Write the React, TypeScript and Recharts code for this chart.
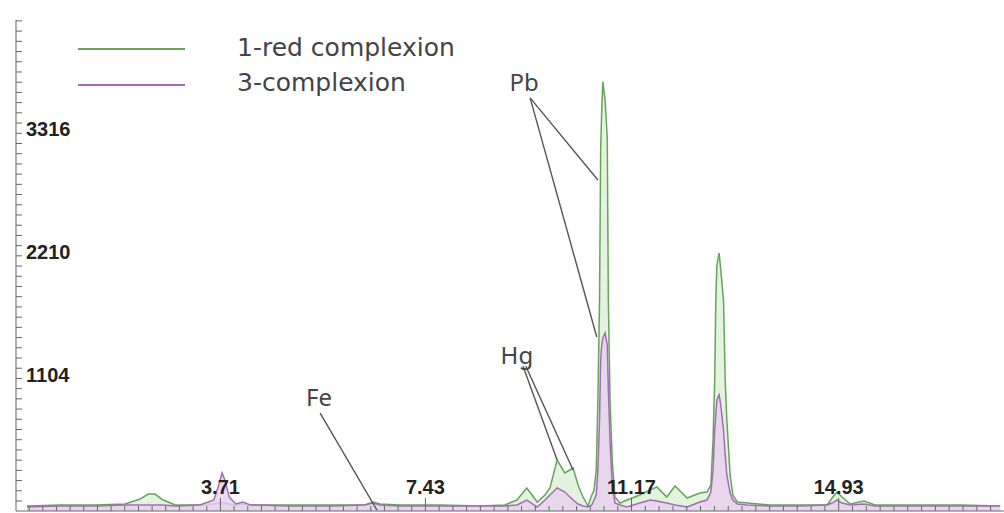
import { AreaChart, Area, XAxis, YAxis, ReferenceLine, ReferenceDot } from 'recharts'

// energy (keV) of each sampled channel
const energy = [
  0.2, 0.8, 1.43, 1.98, 2.25, 2.4, 2.52, 2.67, 2.89, 3.34,
  3.59, 3.68, 3.74, 3.79, 3.87, 3.99, 4.12, 4.25, 4.97, 5.7,
  6.33, 6.48, 6.61, 6.97, 7.7, 8.42, 8.87, 9.09, 9.27, 9.46,
  9.6, 9.69, 9.82, 9.96, 10.11, 10.2, 10.29, 10.38, 10.45, 10.49,
  10.53, 10.56, 10.59, 10.61, 10.63, 10.65, 10.69, 10.73, 10.75, 10.78,
  10.82, 10.87, 10.96, 11.09, 11.32, 11.51, 11.63, 11.81, 11.96, 12.18,
  12.41, 12.54, 12.61, 12.65, 12.68, 12.7, 12.72, 12.76, 12.79, 12.84,
  12.87, 12.9, 12.96, 13.01, 13.09, 13.27, 13.68, 14.23, 14.72, 14.81,
  14.9, 14.99, 15.14, 15.39, 15.59, 16.41, 17.13, 17.86,
]

// 1-red complexion counts
const redComplexion = [
  45, 54, 54, 63, 108, 153, 153, 99, 54, 54,
  63, 72, 72, 72, 63, 54, 63, 54, 54, 54,
  54, 81, 63, 54, 54, 45, 54, 99, 208, 81,
  144, 208, 460, 343, 388, 235, 126, 45, 144, 190,
  370, 1002, 1904, 3258, 3619, 3872, 3709, 3375, 1904, 1002,
  460, 126, 72, 99, 144, 190, 217, 126, 226, 117,
  162, 171, 235, 641, 1182, 1904, 2220, 2328, 2175, 1904,
  1182, 821, 325, 144, 81, 72, 54, 54, 54, 117,
  171, 126, 63, 90, 54, 54, 54, 45,
]

// 3-complexion counts
const complexion3 = [
  36, 45, 45, 54, 54, 54, 54, 54, 45, 54,
  99, 235, 343, 280, 126, 63, 81, 54, 45, 45,
  54, 72, 54, 45, 45, 45, 45, 54, 99, 36,
  99, 144, 208, 171, 99, 63, 45, 36, 54, 99,
  144, 370, 821, 1363, 1498, 1561, 1606, 1498, 1092, 641,
  235, 72, 54, 36, 72, 99, 90, 72, 54, 36,
  81, 99, 171, 370, 731, 866, 1002, 1047, 957, 731,
  505, 325, 162, 99, 63, 54, 45, 45, 54, 72,
  99, 72, 54, 63, 45, 45, 45, 45,
]

const xLabels = [3.71, 7.43, 11.17, 14.93]
const yLabels = [1104, 2210, 3316]

const data = energy.map((e, i) => ({ energy: e, red: redComplexion[i], c3: complexion3[i] }))

// minor ticks: 15 between labelled x values, 12 between labelled y values
const xTicks: number[] = []
{
  const first = (xLabels[1] - xLabels[0]) / 15
  const last = (xLabels[3] - xLabels[2]) / 15
  for (let v = xLabels[0] - first; v > 0.05; v -= first) xTicks.unshift(+v.toFixed(3))
  for (let s = 0; s < xLabels.length - 1; s++) {
    const st = (xLabels[s + 1] - xLabels[s]) / 15
    for (let k = 0; k < 15; k++) xTicks.push(+(xLabels[s] + k * st).toFixed(3))
  }
  for (let v = xLabels[3]; v < 17.9; v += last) xTicks.push(+v.toFixed(3))
}
const yStep = (yLabels[1] - yLabels[0]) / 12
const yTicks = Array.from({ length: 48 }, (_, i) => +(yLabels[0] + (i - 11) * yStep).toFixed(1))
  .filter((v) => v > 0 && v < 4430)

const GREEN = '#68a35e'
const PURPLE = '#a46cb4'
const AXIS = '#666'

function XTick({ x, y, payload }: any) {
  const major = xLabels.some((v) => Math.abs(v - payload.value) < 0.005)
  return (
    <g>
      <line x1={x} x2={x} y1={y} y2={y - (major ? 13 : 5)} stroke={AXIS} strokeWidth={1} />
      {major && (
        <text x={x} y={y - 17} textAnchor="middle" fontSize={20} fontWeight="bold"
          fontFamily="Liberation Sans, Arial, sans-serif" fill="#222">
          {payload.value}
        </text>
      )}
    </g>
  )
}

function YTick({ x, y, payload }: any) {
  const major = yLabels.some((v) => Math.abs(v - payload.value) < 1)
  return (
    <g>
      <line x1={x} x2={x + 6} y1={y} y2={y} stroke={AXIS} strokeWidth={1} />
      {major && (
        <text x={x + 10} y={y - 7} textAnchor="start" fontSize={20} fontWeight="bold"
          fontFamily="Liberation Sans, Arial, sans-serif" fill="#222">
          {Math.round(payload.value)}
        </text>
      )}
    </g>
  )
}

function Tag({ viewBox, value }: any) {
  return (
    <text x={viewBox.x + viewBox.width / 2} y={viewBox.y + viewBox.height / 2 + 8}
      textAnchor="middle" fontSize={24} fontFamily="Noto Sans, sans-serif" fill="#444">
      {value}
    </text>
  )
}

const pointer = { stroke: '#555', strokeWidth: 1.4, ifOverflow: 'visible' as const }

export default function App() {
  return (
    <div style={{ position: 'absolute', left: 0, top: 0, width: 1004, height: 513, background: '#fff' }}>
      <AreaChart width={1004} height={513} data={data} margin={{ top: 20, right: 0, bottom: 1, left: 15 }}>
        <XAxis dataKey="energy" type="number" domain={[0, 17.93]} ticks={xTicks} tick={XTick}
          tickSize={0} tickMargin={0} height={1} axisLine={{ stroke: AXIS }} tickLine={false}
          allowDataOverflow interval={0} />
        <YAxis type="number" domain={[0, 4430]} ticks={yTicks} tick={YTick}
          tickSize={0} tickMargin={0} width={1} axisLine={{ stroke: AXIS }} tickLine={false}
          allowDataOverflow interval={0} />
        <Area type="linear" dataKey="red" stroke={GREEN} strokeWidth={1.5} fill="#d6efcf"
          fillOpacity={0.7} isAnimationActive={false} dot={false} activeDot={false} />
        <Area type="linear" dataKey="c3" stroke={PURPLE} strokeWidth={1.5} fill="#ead0f0"
          fillOpacity={0.8} isAnimationActive={false} dot={false} activeDot={false} />

        <ReferenceLine segment={[{ x: 9.33, y: 3727 }, { x: 10.56, y: 2987 }]} {...pointer} />
        <ReferenceLine segment={[{ x: 9.33, y: 3727 }, { x: 10.54, y: 1570 }]} {...pointer} />
        <ReferenceLine segment={[{ x: 9.2, y: 1309 }, { x: 9.82, y: 460 }]} {...pointer} />
        <ReferenceLine segment={[{ x: 9.25, y: 1309 }, { x: 10.11, y: 370 }]} {...pointer} />
        <ReferenceLine segment={[{ x: 5.52, y: 884 }, { x: 6.55, y: 9 }]} {...pointer} />

        <ReferenceDot x={9.22} y={3863} r={1} fill="none" stroke="none" ifOverflow="visible"
          label={<Tag value="Pb" />} />
        <ReferenceDot x={9.09} y={1399} r={1} fill="none" stroke="none" ifOverflow="visible"
          label={<Tag value="Hg" />} />
        <ReferenceDot x={5.5} y={1020} r={1} fill="none" stroke="none" ifOverflow="visible"
          label={<Tag value="Fe" />} />
      </AreaChart>

      <svg width={500} height={110} style={{ position: 'absolute', left: 0, top: 0 }}>
        <line x1={78} x2={185} y1={49} y2={49} stroke={GREEN} strokeWidth={2} />
        <line x1={78} x2={185} y1={85} y2={85} stroke={PURPLE} strokeWidth={2} />
        <text x={237} y={56} fontSize={25} fontFamily="DejaVu Sans, sans-serif" fill="#444">1-red complexion</text>
        <text x={237} y={91} fontSize={25} fontFamily="DejaVu Sans, sans-serif" fill="#444">3-complexion</text>
      </svg>
    </div>
  )
}
